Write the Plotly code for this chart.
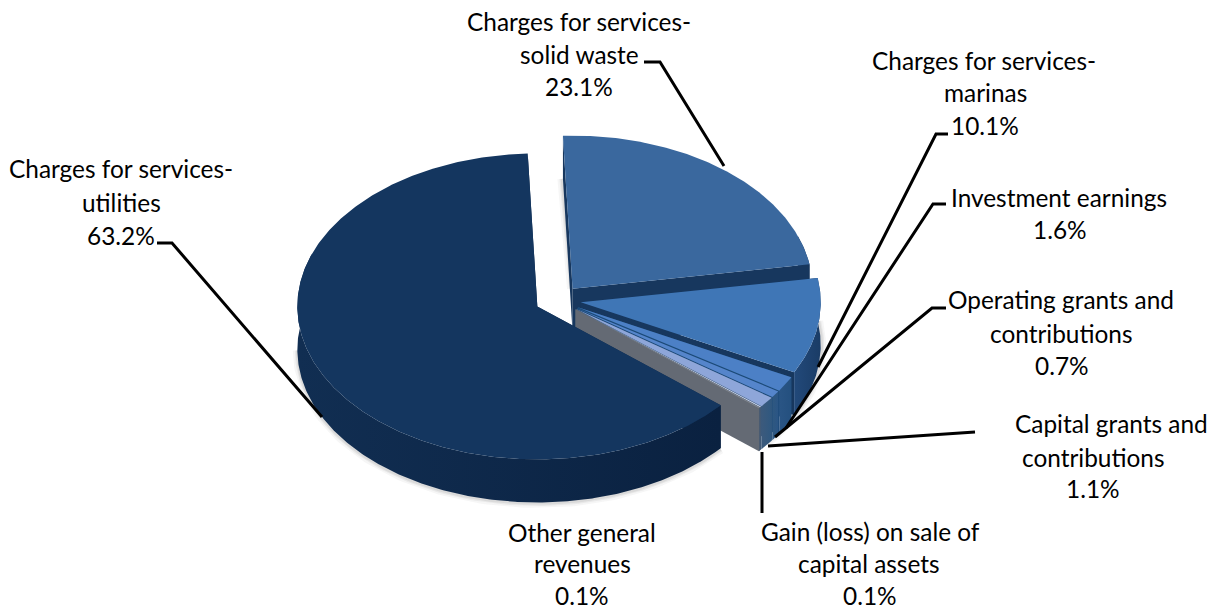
import numpy as np
import plotly.graph_objects as go

# Revenue shares, clockwise from the near-top of the pie
categories = [["Charges for services-", "solid waste"], ["Charges for services-", "marinas"],
              ["Investment earnings"], ["Operating grants and", "contributions"],
              ["Capital grants and", "contributions"], ["Gain (loss) on sale of", "capital assets"],
              ["Other general", "revenues"], ["Charges for services-", "utilities"]]
shares = [23.1, 10.1, 1.6, 0.7, 1.1, 0.1, 0.1, 63.2]

# Appearance of each slice: top face, rim gradient (left, right), cut face
top_colors = ["#3a689e", "#3f76b6", "#4c80c6", "#5585cb", "#8ea6d9", "#c5d1ea", "#7f848c", "#14365f"]
rim_colors = [("#17375e", "#17375e"), ("#22497a", "#1a3c66"), ("#2a5585", "#24507f"), ("#2f5880", "#2a5585"),
              ("#3c5a7c", "#2f5880"), ("#465a72", "#3c5a7c"), ("#4a5a70", "#465a72"), ("#112e52", "#0a2140")]
cut_colors = ["#17375e", "#17375e", "#1c4a78", "#1c4a78", "#3c5a7c", "#465a72", "#646a74", "#0f2c50"]

# Text placement for each slice, one entry per printed line
label_x = [[579, 579, 579], [984, 985, 985], [1059, 1060], [1061, 1061, 1062],
           [1111, 1093, 1093], [870, 869, 870], [582, 582, 582], [121, 121, 121]]
label_y = [[21, 54, 86], [60, 92, 125], [197, 229], [299, 333, 365],
           [423, 457, 488], [531, 563, 595], [532, 563.5, 595], [168, 202, 235]]
leader_x = [[644, 660, 724], [948, 936, 818], [946, 933, 786], [946, 932, 775], [975, 768], [762, 762], [], [157, 172, 322]]
leader_y = [[62, 62, 166], [134, 134, 367], [204, 204, 428], [308, 308, 437], [432, 446], [452, 513], [], [243, 243, 417]]

# Projection of the tilted pie onto the page
CX, CY = 558, 300
RX, RY = 240, 153
DEPTH = 43
EXPLODE = 23
START_DEG = -2.3


def project(apex, deg):
    a = np.radians(deg)
    return apex[0] + RX * np.sin(a), apex[1] - RY * np.cos(a)


def polygon(xs, ys, colors=None, color=None):
    trace = dict(x=list(xs), y=list(ys), mode="lines", fill="toself", line=dict(width=0),
                 hoverinfo="skip", showlegend=False)
    if colors:
        trace["fillgradient"] = dict(type="horizontal", colorscale=[[0, colors[0]], [1, colors[1]]])
    else:
        trace["fillcolor"] = color
    return go.Scatter(**trace)


def soft_edge(xs, ys):
    # Faint drop shadow hugging an outer edge, built from widening translucent strokes
    for width, alpha in ((9, 0.05), (5, 0.07), (2.5, 0.09)):
        fig.add_trace(go.Scatter(x=list(xs), y=list(ys), mode="lines", hoverinfo="skip", showlegend=False,
                                 line=dict(color=f"rgba(70,70,70,{alpha})", width=width)))


fig = go.Figure()
edges = START_DEG + np.concatenate([[0], np.cumsum(shares)]) * 3.6

apexes = []
for i in range(len(shares)):
    mid = np.radians((edges[i] + edges[i + 1]) / 2)
    apexes.append((CX + EXPLODE * np.sin(mid), CY - EXPLODE * RY / RX * np.cos(mid)))

# Shadows go underneath the whole pie
arc = np.linspace(edges[7], 270, 120)
sx, sy = project(apexes[7], arc)
soft_edge(sx, sy + DEPTH + 1)
arc = np.linspace(edges[1], edges[5], 60)
sx, sy = project(apexes[1], arc)
soft_edge(sx + 1, sy + DEPTH)
sx, sy = project(apexes[0], np.array([edges[0], edges[0]]))
soft_edge([sx[0] - 1, apexes[0][0] - 1], [sy[0] + DEPTH, apexes[0][1]])

for i in range(len(shares)):
    a0, a1 = edges[i], edges[i + 1]
    apex = apexes[i]
    arc = np.linspace(a0, a1, max(8, int((a1 - a0) * 2)))
    ax, ay = project(apex, arc)

    # Cut faces and outer rim, extruded downward, then the top face over them
    for end in (0, -1):
        fx = [apex[0], ax[end], ax[end], apex[0]]
        fy = [apex[1], ay[end], ay[end] + DEPTH, apex[1] + DEPTH]
        fig.add_trace(polygon(fx, fy, color=cut_colors[i]))
    front = np.cos(np.radians(arc)) < 0.35
    rx_pts, ry_pts = ax[front], ay[front]
    fig.add_trace(polygon(np.r_[rx_pts, rx_pts[::-1]], np.r_[ry_pts, ry_pts[::-1] + DEPTH], colors=rim_colors[i]))
    fig.add_trace(polygon(np.r_[apex[0], ax], np.r_[apex[1], ay], color=top_colors[i]))

# Leader lines sit above the pie
for lx, ly in zip(leader_x, leader_y):
    if lx:
        fig.add_trace(go.Scatter(x=lx, y=ly, mode="lines", line=dict(color="#000000", width=3),
                                 hoverinfo="skip", showlegend=False))

for name, value, xs, ys in zip(categories, shares, label_x, label_y):
    for line, tx, ty in zip(name + [f"{value:.1f}%"], xs, ys):
        fig.add_annotation(x=tx, y=ty, xref="x", yref="y", text=line, showarrow=False,
                           font=dict(family="Lato", size=24.4, color="#000000"), align="center")

fig.update_layout(width=1220, height=611, margin=dict(l=0, r=0, t=0, b=0), autosize=False,
                  paper_bgcolor="#ffffff", plot_bgcolor="#ffffff",
                  xaxis=dict(range=[0, 1220], visible=False, fixedrange=True),
                  yaxis=dict(range=[611, 0], visible=False, fixedrange=True))
fig.write_html("out.html", config=dict(displayModeBar=False))
